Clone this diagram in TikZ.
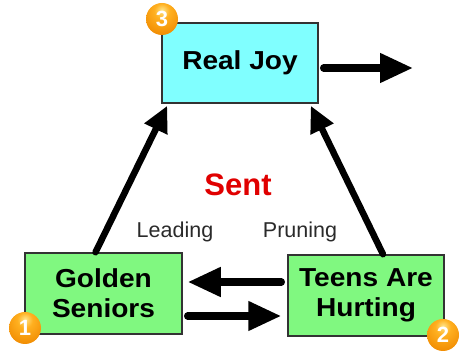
\documentclass[tikz,border=0pt]{standalone}
\usepackage{fontspec}
\setmainfont{Liberation Sans}
\newfontfamily\boxfont[FakeStretch=1.08]{Liberation Sans}
\usetikzlibrary{arrows.meta,shadings}
\definecolor{cyanbox}{HTML}{80FFFF}
\definecolor{greenbox}{HTML}{80F880}
\definecolor{bordergray}{HTML}{333333}
\definecolor{labelgray}{HTML}{2A2A2A}
\definecolor{sentred}{HTML}{E00000}
\definecolor{ballhi}{HTML}{FFE58A}
\definecolor{ballmid}{HTML}{FFB020}
\definecolor{ballout}{HTML}{F08A00}
\pgfdeclareradialshading{orangeball}{\pgfpoint{0bp}{14bp}}{%
  color(0bp)=(ballhi); color(12bp)=(ballmid); color(36bp)=(ballout); color(50bp)=(ballout!90!black); color(100bp)=(ballout!90!black)}
\tikzset{
  boxnode/.style={draw=bordergray, line width=1.5pt, minimum width=156pt, minimum height=80pt, inner sep=0pt, align=center,
    font=\boxfont\bfseries\fontsize{26}{30}\selectfont, text=black},
  bigarrow/.style={line width=7.5pt, line cap=round, -{Triangle[length=33pt,width=28pt]}},
  diagarrow/.style={line width=6.5pt, line cap=round, -{Triangle[length=26pt,width=24pt]}},
  badge/.style={circle, minimum size=32pt, inner sep=0pt, shading=orangeball, text=white,
    font=\bfseries\fontsize{22}{22}\selectfont},
  smalllabel/.style={font=\fontsize{21.5}{21.5}\selectfont, text=labelgray}
}
\begin{document}
\begin{tikzpicture}[x=1pt,y=-1pt]
\useasboundingbox (0,0) rectangle (461,352);
\node[boxnode, fill=cyanbox] (rj) at (240,63) {Real Joy};
\node[boxnode, fill=greenbox, minimum width=157pt, minimum height=81pt] (gs) at (103.5,293.5) {Golden\\Seniors};
\node[boxnode, fill=greenbox, minimum height=81pt] (th) at (366,295.5) {Teens Are\\Hurting};
\node[font=\bfseries\fontsize{31}{31}\selectfont, text=sentred] (sent) at (238,185) {Sent};
\node[smalllabel] (lead) at (175,232) {Leading};
\node[smalllabel] (prun) at (300,232) {Pruning};
\coordinate (out) at (413,68);
\draw[diagarrow] ([xshift=-8pt]gs.north) -- ([xshift=6pt,yshift=-2pt]rj.south west);
\draw[diagarrow] ([xshift=17pt]th.north) -- ([xshift=-8pt,yshift=-2pt]rj.south east);
\draw[bigarrow] ([xshift=-6pt,yshift=13.5pt]th.west) -- ([xshift=5pt,yshift=11.5pt]gs.east);
\draw[bigarrow] ([xshift=5pt,yshift=-22.5pt]gs.east) -- ([xshift=-6pt,yshift=-20.5pt]th.west);
\draw[bigarrow] ([xshift=5pt,yshift=-5pt]rj.east) -- (out);
\node[badge] (b3) at (162,19) {3};
\node[badge] (b1) at (25,328) {1};
\node[badge] (b2) at (443,335) {2};
\end{tikzpicture}
\end{document}
